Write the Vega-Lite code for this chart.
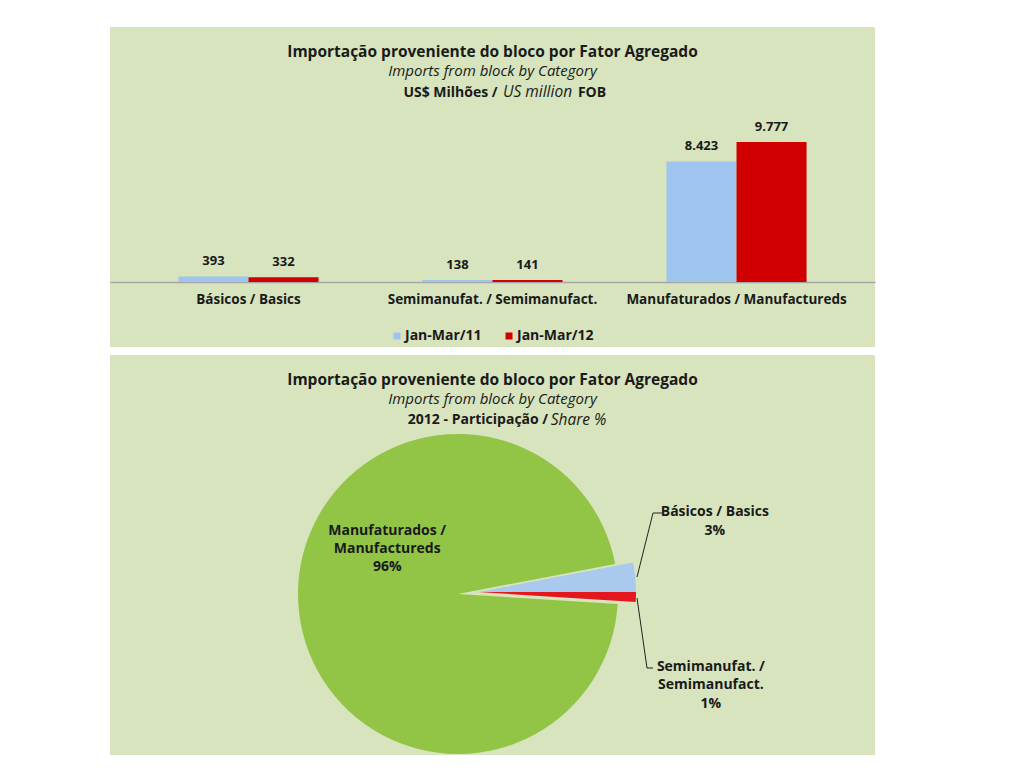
{
  "$schema": "https://vega.github.io/schema/vega-lite/v6.json",
  "background": "white",
  "padding": {"left": 110, "top": 27, "right": 149, "bottom": 13},
  "spacing": 8,
  "config": {
    "view": {"fill": "#d7e4bd", "stroke": null},
    "font": "Open Sans",
    "locale": {"number": {"decimal": ",", "thousands": ".", "grouping": [3], "currency": ["R$ ", ""]}},
    "title": {"font": "Open Sans", "fontSize": 15.5, "fontWeight": "bold", "color": "#1a1a1a", "subtitleFont": "Open Sans", "subtitleFontSize": 15, "subtitleFontStyle": "italic", "subtitleColor": "#1a1a1a", "subtitlePadding": 4, "anchor": "middle", "frame": "group"}
  },
  "resolve": {"scale": {"color": "independent"}},
  "vconcat": [
    {
      "width": 765,
      "height": 320,
      "title": {"text": "Importação proveniente do bloco por Fator Agregado", "subtitle": "Imports from block by Category", "offset": -52},
      "data": {"values": [
        {"categoria": "Básicos / Basics", "periodo": "Jan-Mar/11", "valor": 393},
        {"categoria": "Básicos / Basics", "periodo": "Jan-Mar/12", "valor": 332},
        {"categoria": "Semimanufat. / Semimanufact.", "periodo": "Jan-Mar/11", "valor": 138},
        {"categoria": "Semimanufat. / Semimanufact.", "periodo": "Jan-Mar/12", "valor": 141},
        {"categoria": "Manufaturados / Manufactureds", "periodo": "Jan-Mar/11", "valor": 8423},
        {"categoria": "Manufaturados / Manufactureds", "periodo": "Jan-Mar/12", "valor": 9777}
      ]},
      "encoding": {
        "x": {
          "field": "categoria", "type": "nominal", "sort": null,
          "scale": {"paddingInner": 0.426, "paddingOuter": 0.2805},
          "axis": {"orient": "bottom", "offset": -65, "ticks": false, "domainColor": "#a6a6a6", "domainWidth": 1.5,
            "labelFont": "Open Sans", "labelFontSize": 13.5, "labelFontWeight": "bold", "labelColor": "#1a1a1a", "labelPadding": 10, "labelAngle": 0, "labelLimit": 0,
            "title": "US million", "titleFont": "Open Sans", "titleFontSize": 15.5, "titleFontStyle": "italic", "titleFontWeight": "normal", "titleColor": "#1a1a1a",
            "titleX": 427, "titleY": -191, "titleAngle": 0, "titleAlign": "center", "titleBaseline": "middle"}
        },
        "xOffset": {"field": "periodo", "type": "nominal", "scale": {"paddingInner": 0}}
      },
      "layer": [
        {
          "mark": {"type": "bar"},
          "encoding": {
            "y": {"field": "valor", "type": "quantitative", "scale": {"domain": [-4539, 17808], "nice": false},
              "axis": {"labels": false, "ticks": false, "domain": false, "grid": false, "minExtent": 0,
                "title": "US$ Milhões /", "titleFont": "Open Sans", "titleFontSize": 14, "titleFontWeight": "bold", "titleColor": "#1a1a1a",
                "titleX": 340, "titleY": 65, "titleAngle": 0, "titleAlign": "center", "titleBaseline": "middle"}},
            "y2": {"datum": 0},
            "color": {"field": "periodo", "type": "nominal", "scale": {"domain": ["Jan-Mar/11", "Jan-Mar/12"], "range": ["#9fc4ee", "#d00000"]},
              "legend": {"orient": "none", "legendX": 280, "legendY": 302, "direction": "horizontal", "title": null,
                "symbolType": "square", "symbolSize": 49, "symbolStrokeWidth": 0, "labelFont": "Open Sans", "labelFontSize": 14, "labelFontWeight": "bold",
                "labelColor": "#1a1a1a", "columnPadding": 20, "labelOffset": 1}}
          }
        },
        {
          "mark": {"type": "text", "dy": -15, "baseline": "middle", "font": "Open Sans", "fontSize": 13, "fontWeight": "bold", "color": "#1a1a1a"},
          "encoding": {
            "y": {"field": "valor", "type": "quantitative", "scale": {"domain": [-4539, 17808], "nice": false},
              "axis": {"orient": "right", "labels": false, "ticks": false, "domain": false, "grid": false, "minExtent": 0,
                "title": "FOB", "titleFont": "Open Sans", "titleFontSize": 14, "titleFontWeight": "bold", "titleColor": "#1a1a1a",
                "titleX": -283.5, "titleY": 65, "titleAngle": 0, "titleAlign": "center", "titleBaseline": "middle"}},
            "text": {"field": "valor", "type": "quantitative", "format": ","}
          }
        }
      ],
      "resolve": {"scale": {"y": "independent"}, "axis": {"y": "independent"}}
    },
    {
      "width": 765,
      "height": 400,
      "title": {"text": "Importação proveniente do bloco por Fator Agregado", "subtitle": "Imports from block by Category", "offset": -52},
      "data": {"values": [
        {"categoria": "Manufaturados", "participacao": 96, "rotulo": "Manufaturados /\nManufactureds\n96%"},
        {"categoria": "Básicos", "participacao": 3, "rotulo": "Básicos / Basics\n3%"},
        {"categoria": "Semimanufaturados", "participacao": 1, "rotulo": "Semimanufat. /\nSemimanufact.\n1%"}
      ]},
      "encoding": {
        "theta": {"field": "participacao", "type": "quantitative", "stack": true, "scale": {"range": [1.6336, 7.9168]}},
        "order": {"field": "participacao", "type": "quantitative", "sort": "descending"},
        "color": {"field": "categoria", "type": "nominal", "scale": {"domain": ["Manufaturados", "Básicos", "Semimanufaturados"], "range": ["#92c545", "#a9c9ee", "#e3171c"]}, "legend": null}
      },
      "layer": [
        {
          "mark": {"type": "arc", "outerRadius": 160},
          "encoding": {
            "x": {"datum": 348, "type": "quantitative", "scale": {"domain": [0, 765], "nice": false, "zero": false},
              "axis": {"orient": "bottom", "labels": false, "ticks": false, "domain": false, "grid": false, "minExtent": 0,
                "title": "Share %", "titleFont": "Open Sans", "titleFontSize": 15.5, "titleFontStyle": "italic", "titleFontWeight": "normal", "titleColor": "#1a1a1a",
                "titleX": 468, "titleY": -336, "titleAngle": 0, "titleAlign": "center", "titleBaseline": "middle"}},
            "y": {"datum": 239, "type": "quantitative", "scale": {"domain": [0, 400], "nice": false, "zero": false, "reverse": true},
              "axis": {"labels": false, "ticks": false, "domain": false, "grid": false, "minExtent": 0,
                "title": "2012 - Participação /", "titleFont": "Open Sans", "titleFontSize": 14, "titleFontWeight": "bold", "titleColor": "#1a1a1a",
                "titleX": 367.5, "titleY": 64, "titleAngle": 0, "titleAlign": "center", "titleBaseline": "middle"}},
            "opacity": {"condition": {"test": "datum.categoria === 'Manufaturados'", "value": 1}, "value": 0}
          }
        },
        {
          "mark": {"type": "arc", "outerRadius": 158},
          "encoding": {
            "x": {"datum": 368, "type": "quantitative"},
            "y": {"datum": 237, "type": "quantitative"},
            "opacity": {"condition": {"test": "datum.categoria === 'Manufaturados'", "value": 0}, "value": 1}
          }
        },
        {
          "mark": {"type": "text", "radius": 95, "dx": 24, "dy": -69, "lineBreak": "\n", "lineHeight": 18, "align": "center", "baseline": "middle", "font": "Open Sans", "fontSize": 14, "fontWeight": "bold", "color": "#1a1a1a"},
          "encoding": {
            "x": {"datum": 348, "type": "quantitative"},
            "y": {"datum": 239, "type": "quantitative"},
            "color": {"value": "#1a1a1a"},
            "text": {"condition": {"test": "datum.categoria === 'Manufaturados'", "field": "rotulo"}, "value": ""}
          }
        },
        {
          "mark": {"type": "text", "radius": 258, "dx": 0, "dy": -58, "lineBreak": "\n", "lineHeight": 19, "align": "center", "baseline": "middle", "font": "Open Sans", "fontSize": 14, "fontWeight": "bold", "color": "#1a1a1a"},
          "encoding": {
            "x": {"datum": 348, "type": "quantitative"},
            "y": {"datum": 239, "type": "quantitative"},
            "color": {"value": "#1a1a1a"},
            "text": {"condition": {"test": "datum.categoria === 'Básicos'", "field": "rotulo"}, "value": ""}
          }
        },
        {
          "mark": {"type": "text", "radius": 253, "dx": 0, "dy": 65, "lineBreak": "\n", "lineHeight": 18.5, "align": "center", "baseline": "middle", "font": "Open Sans", "fontSize": 14, "fontWeight": "bold", "color": "#1a1a1a"},
          "encoding": {
            "x": {"datum": 348, "type": "quantitative"},
            "y": {"datum": 239, "type": "quantitative"},
            "color": {"value": "#1a1a1a"},
            "text": {"condition": {"test": "datum.categoria === 'Semimanufaturados'", "field": "rotulo"}, "value": ""}
          }
        },
        {
          "data": {"values": [{}]},
          "mark": {"type": "rule", "color": "#222222", "strokeWidth": 1},
          "encoding": {"x": {"datum": 527}, "y": {"datum": 222}, "x2": {"datum": 543}, "y2": {"datum": 158}, "theta": null, "order": null, "color": null}
        },
        {
          "data": {"values": [{}]},
          "mark": {"type": "rule", "color": "#222222", "strokeWidth": 1},
          "encoding": {"x": {"datum": 543}, "y": {"datum": 158}, "x2": {"datum": 552}, "y2": {"datum": 158}, "theta": null, "order": null, "color": null}
        },
        {
          "data": {"values": [{}]},
          "mark": {"type": "rule", "color": "#222222", "strokeWidth": 1},
          "encoding": {"x": {"datum": 527}, "y": {"datum": 243}, "x2": {"datum": 537}, "y2": {"datum": 313}, "theta": null, "order": null, "color": null}
        },
        {
          "data": {"values": [{}]},
          "mark": {"type": "rule", "color": "#222222", "strokeWidth": 1},
          "encoding": {"x": {"datum": 537}, "y": {"datum": 313}, "x2": {"datum": 543}, "y2": {"datum": 313}, "theta": null, "order": null, "color": null}
        }
      ]
    }
  ]
}
